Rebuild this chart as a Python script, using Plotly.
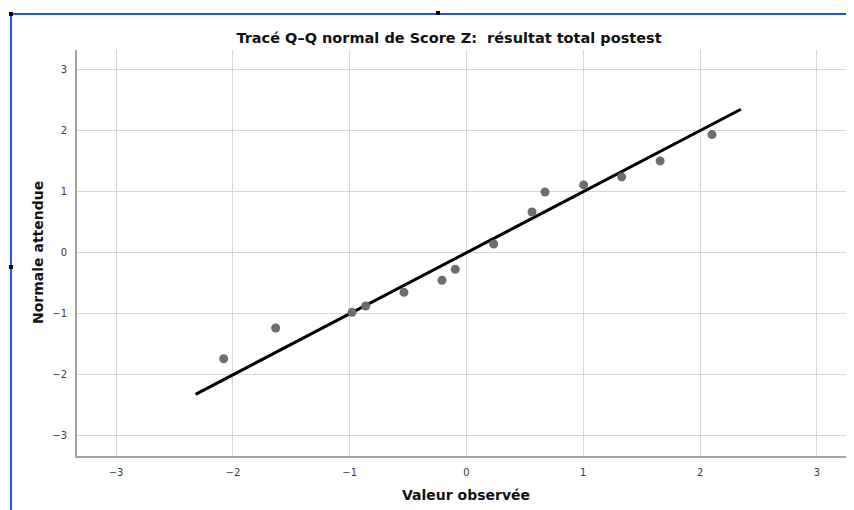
import plotly.graph_objects as go

# Observed values (x) and expected normal values (y)
observed = [-2.079, -1.634, -0.980, -0.863, -0.535, -0.210, -0.096, 0.233, 0.561, 0.672, 1.003, 1.329, 1.658, 2.102]
expected = [-1.738, -1.234, -0.977, -0.874, -0.649, -0.452, -0.272, 0.143, 0.667, 0.995, 1.110, 1.241, 1.503, 1.934]
ref_line = [-2.32, 2.35]
tick_vals = [-3, -2, -1, 0, 1, 2, 3]
tick_text = ["\u22123", "\u22122", "\u22121", "0", "1", "2", "3"]

FONT = "DejaVu Sans"
OFF = 8  # page body margin

fig = go.Figure()
fig.add_trace(go.Scatter(x=ref_line, y=ref_line, mode="lines",
                         line=dict(color="black", width=3), hoverinfo="skip"))
fig.add_trace(go.Scatter(x=observed, y=expected, mode="markers",
                         marker=dict(color="#6e6e6e", size=9)))

axis_common = dict(
    tickvals=tick_vals, ticktext=tick_text, showgrid=True, gridcolor="#d6d6d6", gridwidth=1,
    zeroline=False, showline=True, linecolor="#a3a3a3", linewidth=2,
    ticks="", tickfont=dict(family=FONT, size=10, color="#3a3a3a"), ticklabelstandoff=6,
)
fig.update_xaxes(range=[-3.335, 3.318], **axis_common)
fig.update_yaxes(range=[-3.33, 3.32], **axis_common)

W, H = 854 - OFF, 510 - OFF

def px(x):
    return (x - 77) / 777

def py(y):
    return (456 - y) / 406

fig.update_layout(
    width=W, height=H, showlegend=False,
    plot_bgcolor="white", paper_bgcolor="white",
    margin=dict(l=77 - OFF, r=0, t=50 - OFF, b=54),
    title=dict(text="<b>Tracé Q\u2013Q normal de Score Z:  résultat total postest</b>",
               x=(449 - OFF) / W, xanchor="center", y=1 - (38 - OFF) / H, yanchor="middle",
               font=dict(family=FONT, size=14.5, color="#111111")),
    annotations=[
        dict(text="<b>Normale attendue</b>", xref="paper", yref="paper", x=px(38), y=py(253),
             textangle=-90, showarrow=False, xanchor="center", yanchor="middle",
             font=dict(family=FONT, size=14, color="#111111")),
        dict(text="<b>Valeur observée</b>", xref="paper", yref="paper", x=px(466), y=py(495),
             showarrow=False, xanchor="center", yanchor="middle",
             font=dict(family=FONT, size=14, color="#111111")),
    ],
    shapes=[
        dict(type="line", xref="paper", yref="paper", x0=px(10), x1=px(860),
             y0=py(14), y1=py(14), line=dict(color="#1f55e6", width=2)),
        dict(type="line", xref="paper", yref="paper", x0=px(11), x1=px(11),
             y0=py(14), y1=py(520), line=dict(color="#1f55e6", width=2)),
        dict(type="rect", xref="paper", yref="paper", x0=px(9), x1=px(13),
             y0=py(12), y1=py(16), fillcolor="black", line=dict(width=0)),
        dict(type="rect", xref="paper", yref="paper", x0=px(436), x1=px(440),
             y0=py(11), y1=py(15), fillcolor="black", line=dict(width=0)),
        dict(type="rect", xref="paper", yref="paper", x0=px(9), x1=px(13),
             y0=py(265), y1=py(269), fillcolor="black", line=dict(width=0)),
    ],
)

fig.write_html("out.html")
